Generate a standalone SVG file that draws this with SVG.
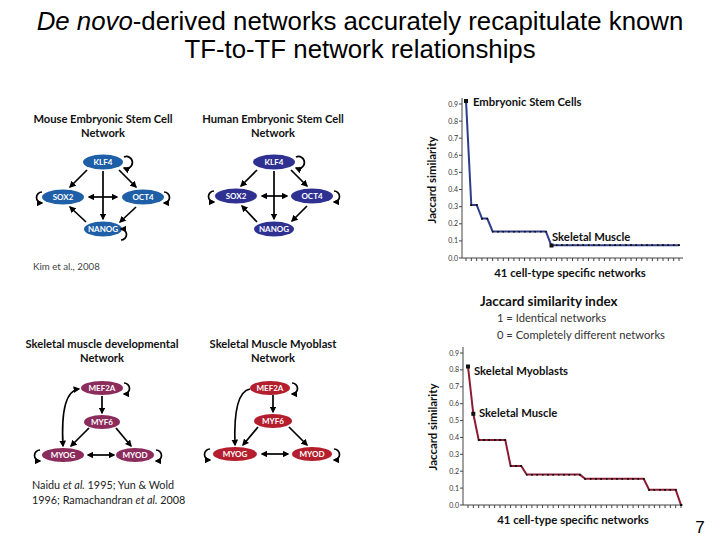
<svg xmlns="http://www.w3.org/2000/svg" width="720" height="540" viewBox="0 0 720 540">
<style>
.title{font-family:"Liberation Sans",Arial,sans-serif;font-size:25.8px;fill:#000}
.hd{font-family:Lato,"Open Sans",sans-serif;font-weight:bold;font-size:11.2px;fill:#111;text-anchor:middle}
.nl{font-family:Lato,"Open Sans",sans-serif;font-weight:bold;font-size:8px;fill:#fff;text-anchor:middle}
.cite{font-family:Lato,"Open Sans",sans-serif;font-size:10.8px;fill:#222}
.edge{fill:none;stroke:#000;stroke-width:1.7}
.tick{font-family:Lato,"Open Sans",sans-serif;font-size:7px;fill:#333;text-anchor:end}
.lab{font-family:Lato,"Open Sans",sans-serif;font-weight:bold;font-size:11.3px;fill:#111}
.ax{font-family:Lato,"Open Sans",sans-serif;font-weight:bold;font-size:11.4px;fill:#111;text-anchor:middle}
.leg{font-family:Lato,"Open Sans",sans-serif;font-size:11.2px;fill:#333}
.axis{stroke:#444;stroke-width:1;fill:none}
.mb{fill:#1F5FA8}.hb{fill:#2E3192}.dv{fill:#8B2C5C}.mr{fill:#B41E2D}
</style>
<defs>
<marker id="ah" viewBox="0 0 10 10" refX="8" refY="5" markerWidth="4" markerHeight="4" orient="auto-start-reverse"><path d="M0,0 L10,5 L0,10 z" fill="#000"/></marker>
<marker id="pt" viewBox="0 0 4 4" refX="2" refY="2" markerWidth="2" markerHeight="2" markerUnits="userSpaceOnUse"><rect width="4" height="4" fill="#111"/></marker>
</defs>

<g id="title">
<text class="title" x="360" y="30" text-anchor="middle"><tspan font-style="italic">De novo</tspan>-derived networks accurately recapitulate known</text>
<text class="title" x="360" y="58" text-anchor="middle">TF-to-TF network relationships</text>
</g>

<!-- Mouse ESC network -->
<g id="mouse-title"><text class="hd" x="103" y="123">Mouse Embryonic Stem Cell</text><text class="hd" x="103" y="137">Network</text></g>
<g id="m-KLF4"><ellipse class="mb" cx="103" cy="162" rx="20" ry="7.5"/><text class="nl" x="103" y="165">KLF4</text></g>
<g id="m-SOX2"><ellipse class="mb" cx="63" cy="197" rx="21" ry="7.5"/><text class="nl" x="63" y="200">SOX2</text></g>
<g id="m-OCT4"><ellipse class="mb" cx="143" cy="197" rx="21" ry="7.5"/><text class="nl" x="143" y="200">OCT4</text></g>
<g id="m-NANOG"><ellipse class="mb" cx="103" cy="229" rx="19" ry="7.5"/><text class="nl" x="103" y="232">NANOG</text></g>
<g id="m-edges">
<path class="edge" d="M87,170 L70,187" marker-end="url(#ah)"/>
<path class="edge" d="M119,170 L136,187" marker-end="url(#ah)"/>
<path class="edge" d="M103,171 L103,219" marker-end="url(#ah)"/>
<path class="edge" d="M89,197 L117,197" marker-start="url(#ah)" marker-end="url(#ah)"/>
<path class="edge" d="M86,222 L70,207" marker-end="url(#ah)"/>
<path class="edge" d="M136,207 L120,222" marker-end="url(#ah)"/>
<path class="edge" d="M124,157 A6,6 0 1 1 124,168" marker-end="url(#ah)"/>
<path class="edge" d="M42,192 A5.5,5.5 0 1 0 42,203" marker-end="url(#ah)"/>
<path class="edge" d="M164,192 A5.5,5.5 0 1 1 164,203" marker-end="url(#ah)"/>
<path class="edge" d="M121,229 A5.5,5.5 0 1 1 121,240" marker-start="url(#ah)"/>
</g>
<text class="cite" x="33" y="270" style="font-size:9.7px;fill:#444">Kim et al., 2008</text>

<!-- Human ESC network -->
<g id="human-title"><text class="hd" x="273" y="123">Human Embryonic Stem Cell</text><text class="hd" x="273" y="137">Network</text></g>
<g id="h-KLF4"><ellipse class="hb" cx="274" cy="162" rx="21" ry="7.5"/><text class="nl" x="274" y="165">KLF4</text></g>
<g id="h-SOX2"><ellipse class="hb" cx="236" cy="196" rx="21" ry="7.5"/><text class="nl" x="236" y="199">SOX2</text></g>
<g id="h-OCT4"><ellipse class="hb" cx="312" cy="196" rx="21" ry="7.5"/><text class="nl" x="312" y="199">OCT4</text></g>
<g id="h-NANOG"><ellipse class="hb" cx="274" cy="229" rx="20" ry="7.5"/><text class="nl" x="274" y="232">NANOG</text></g>
<g id="h-edges">
<path class="edge" d="M257,170 L241,186" marker-end="url(#ah)"/>
<path class="edge" d="M291,170 L307,186" marker-end="url(#ah)"/>
<path class="edge" d="M274,171 L274,219" marker-end="url(#ah)"/>
<path class="edge" d="M262,196 L287,196" marker-start="url(#ah)" marker-end="url(#ah)"/>
<path class="edge" d="M257,222 L242,206" marker-end="url(#ah)"/>
<path class="edge" d="M307,206 L292,221" marker-end="url(#ah)"/>
<path class="edge" d="M296,157 A6,6 0 1 1 296,168" marker-end="url(#ah)"/>
<path class="edge" d="M214,191 A5.5,5.5 0 1 0 214,202" marker-end="url(#ah)"/>
<path class="edge" d="M334,191 A5.5,5.5 0 1 1 334,202" marker-end="url(#ah)"/>
</g>

<!-- Skeletal muscle developmental -->
<g id="dev-title"><text class="hd" x="102" y="348">Skeletal muscle developmental</text><text class="hd" x="102" y="362">Network</text></g>
<g id="d-MEF2A"><ellipse class="dv" cx="102" cy="388" rx="21" ry="7"/><text class="nl" x="102" y="391">MEF2A</text></g>
<g id="d-MYF6"><ellipse class="dv" cx="102" cy="422" rx="18" ry="7"/><text class="nl" x="102" y="425">MYF6</text></g>
<g id="d-MYOG"><ellipse class="dv" cx="63" cy="455" rx="21" ry="7"/><text class="nl" x="63" y="458">MYOG</text></g>
<g id="d-MYOD"><ellipse class="dv" cx="135" cy="455" rx="19" ry="7"/><text class="nl" x="135" y="458">MYOD</text></g>
<g id="d-edges">
<path class="edge" d="M102,396 L102,413" marker-end="url(#ah)"/>
<path class="edge" d="M79,389 Q60,391 63,446" marker-start="url(#ah)" marker-end="url(#ah)"/>
<path class="edge" d="M89,428 L71,446" marker-end="url(#ah)"/>
<path class="edge" d="M116,428 L131,446" marker-end="url(#ah)"/>
<path class="edge" d="M88,455 L114,455" marker-start="url(#ah)" marker-end="url(#ah)"/>
<path class="edge" d="M124,383 A5.5,5.5 0 1 1 124,394" marker-end="url(#ah)"/>
<path class="edge" d="M40,450 A5.5,5.5 0 1 0 40,461" marker-end="url(#ah)"/>
<path class="edge" d="M156,450 A5.5,5.5 0 1 1 156,461" marker-end="url(#ah)"/>
</g>
<text class="cite" x="32" y="489">Naidu <tspan font-style="italic">et al.</tspan> 1995; Yun &amp; Wold</text>
<text class="cite" x="32" y="504">1996; Ramachandran <tspan font-style="italic">et al.</tspan> 2008</text>

<!-- Skeletal muscle myoblast -->
<g id="myo-title"><text class="hd" x="273" y="348">Skeletal Muscle Myoblast</text><text class="hd" x="273" y="362">Network</text></g>
<g id="b-MEF2A"><ellipse class="mr" cx="270" cy="388" rx="20" ry="7"/><text class="nl" x="270" y="391">MEF2A</text></g>
<g id="b-MYF6"><ellipse class="mr" cx="273" cy="421" rx="19" ry="7"/><text class="nl" x="273" y="424">MYF6</text></g>
<g id="b-MYOG"><ellipse class="mr" cx="235" cy="454" rx="22" ry="7"/><text class="nl" x="235" y="457">MYOG</text></g>
<g id="b-MYOD"><ellipse class="mr" cx="312" cy="454" rx="20" ry="7"/><text class="nl" x="312" y="457">MYOD</text></g>
<g id="b-edges">
<path class="edge" d="M273,395 L273,412" marker-end="url(#ah)"/>
<path class="edge" d="M250,389 Q233,392 235,445" marker-end="url(#ah)"/>
<path class="edge" d="M258,427 L243,445" marker-end="url(#ah)"/>
<path class="edge" d="M289,427 L307,445" marker-end="url(#ah)"/>
<path class="edge" d="M262,454 L288,454" marker-start="url(#ah)" marker-end="url(#ah)"/>
<path class="edge" d="M292,383 A5.5,5.5 0 1 1 292,394" marker-end="url(#ah)"/>
<path class="edge" d="M210,449 A5.5,5.5 0 1 0 210,460" marker-end="url(#ah)"/>
<path class="edge" d="M334,449 A5.5,5.5 0 1 1 334,460" marker-end="url(#ah)"/>
</g>

<!-- Top chart -->
<g id="chart-top">
<path class="axis" d="M462,98 L462,258 L683,258"/>
<line x1="465.5" y1="259.5" x2="680" y2="259.5" stroke="#444" stroke-width="3" stroke-dasharray="1 4.325"/>
<path class="axis" d="M459,104 h3 M459,121.1 h3 M459,138.2 h3 M459,155.3 h3 M459,172.4 h3 M459,189.5 h3 M459,206.7 h3 M459,223.8 h3 M459,240.9 h3 M459,258 h3"/>
<g class="tick">
<text x="458" y="106.5">0.9</text><text x="458" y="123.6">0.8</text><text x="458" y="140.7">0.7</text><text x="458" y="157.8">0.6</text><text x="458" y="174.9">0.5</text><text x="458" y="192">0.4</text><text x="458" y="209.2">0.3</text><text x="458" y="226.3">0.2</text><text x="458" y="243.4">0.1</text><text x="458" y="260.5">0.0</text>
</g>
<polyline fill="none" stroke="#2E3D8A" stroke-width="2" marker-start="url(#pt)" marker-mid="url(#pt)" marker-end="url(#pt)" points="466,100.6 471.3,205 476.7,205 482,218.6 487.3,218.6 492.6,231.5 498,231.5 503.3,231.5 508.6,231.5 513.9,231.5 519.3,231.5 524.6,231.5 529.9,231.5 535.2,231.5 540.6,231.5 545.9,231.5 551.2,245.2 556.5,245.2 561.9,245.2 567.2,245.2 572.5,245.2 577.8,245.2 583.2,245.2 588.5,245.2 593.8,245.2 599.1,245.2 604.5,245.2 609.8,245.2 615.1,245.2 620.4,245.2 625.8,245.2 631.1,245.2 636.4,245.2 641.7,245.2 647.1,245.2 652.4,245.2 657.7,245.2 663,245.2 668.4,245.2 673.7,245.2 679,245.2"/>
<rect x="464" y="99" width="4" height="4" fill="#111"/>
<rect x="549.5" y="243.5" width="4" height="4" fill="#111"/>
<text class="lab" x="473" y="106">Embryonic Stem Cells</text>
<text class="lab" x="552" y="241">Skeletal Muscle</text>
<text class="ax" transform="translate(436,180) rotate(-90)">Jaccard similarity</text>
<text class="ax" x="570" y="277">41 cell-type specific networks</text>
</g>

<g id="legend">
<text class="lab" x="480" y="306" style="font-size:13.4px">Jaccard similarity index</text>
<text class="leg" x="497" y="322">1 = Identical networks</text>
<text class="leg" x="497" y="339">0 = Completely different networks</text>
</g>

<!-- Bottom chart -->
<g id="chart-bottom">
<path class="axis" d="M463,347 L463,505 L683,505"/>
<line x1="467.5" y1="506.5" x2="682" y2="506.5" stroke="#444" stroke-width="3" stroke-dasharray="1 4.325"/>
<path class="axis" d="M460,353 h3 M460,369.9 h3 M460,386.8 h3 M460,403.7 h3 M460,420.6 h3 M460,437.4 h3 M460,454.3 h3 M460,471.2 h3 M460,488.1 h3 M460,505 h3"/>
<g class="tick">
<text x="459" y="355.5">0.9</text><text x="459" y="372.4">0.8</text><text x="459" y="389.3">0.7</text><text x="459" y="406.2">0.6</text><text x="459" y="423.1">0.5</text><text x="459" y="439.9">0.4</text><text x="459" y="456.8">0.3</text><text x="459" y="473.7">0.2</text><text x="459" y="490.6">0.1</text><text x="459" y="507.5">0.0</text>
</g>
<polyline fill="none" stroke="#8C1C35" stroke-width="2" marker-start="url(#pt)" marker-mid="url(#pt)" marker-end="url(#pt)" points="468,366.5 473.3,413.8 478.7,440 484,440 489.3,440 494.6,440 500,440 505.3,440 510.6,466 515.9,466 521.3,466 526.6,474.6 531.9,474.6 537.2,474.6 542.6,474.6 547.9,474.6 553.2,474.6 558.5,474.6 563.9,474.6 569.2,474.6 574.5,474.6 579.8,474.6 585.2,478.8 590.5,478.8 595.8,478.8 601.1,478.8 606.5,478.8 611.8,478.8 617.1,478.8 622.4,478.8 627.8,478.8 633.1,478.8 638.4,478.8 643.7,478.8 649.1,489.8 654.4,489.8 659.7,489.8 665,489.8 670.4,489.8 675.7,489.8 681,505"/>
<rect x="466" y="364.5" width="4" height="4" fill="#111"/>
<rect x="471.3" y="411.8" width="4" height="4" fill="#111"/>
<text class="lab" x="474" y="375">Skeletal Myoblasts</text>
<text class="lab" x="479" y="417">Skeletal Muscle</text>
<text class="ax" transform="translate(437,427) rotate(-90)">Jaccard similarity</text>
<text class="ax" x="573" y="524">41 cell-type specific networks</text>
</g>

<text x="700" y="533" font-family="Liberation Sans,Arial,sans-serif" font-size="17" text-anchor="middle" fill="#000">7</text>
</svg>
